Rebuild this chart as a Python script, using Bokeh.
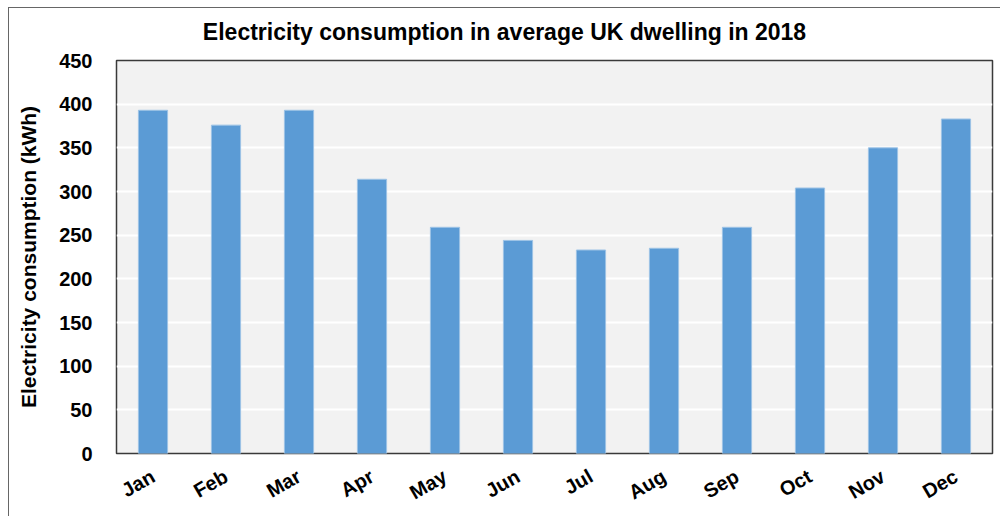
from bokeh.plotting import figure
from bokeh.models import Div, SingleIntervalTicker, FactorRange
from bokeh.layouts import column
from bokeh.embed import file_html
from bokeh.resources import INLINE
import math

# Monthly electricity use of an average UK dwelling, 2018 (kWh)
months = ["Jan", "Feb", "Mar", "Apr", "May", "Jun",
          "Jul", "Aug", "Sep", "Oct", "Nov", "Dec"]
consumption_kwh = [393, 376, 393, 314, 259, 244, 233, 235, 259, 304, 350, 383]

TITLE = "Electricity consumption in average UK dwelling in 2018"
FONT = "Liberation Sans"

title_div = Div(
    text=f'<div style="position: relative; top: 11px;">{TITLE}</div>',
    width=991, height=40, margin=0,
    styles={
        "font-family": f"'{FONT}'", "font-weight": "bold", "font-size": "23px",
        "color": "black", "text-align": "center", "line-height": "27px",
    },
)

p = figure(
    x_range=FactorRange(*months, range_padding=0),
    y_range=(0, 450),
    width=991, height=468, margin=0,
    output_backend="svg", toolbar_location=None,
    min_border_left=107, min_border_right=8,
    min_border_top=12, min_border_bottom=61,
)

p.background_fill_color = "#f2f2f2"
p.border_fill_color = "white"
p.outline_line_color = "#3a3a3a"
p.outline_line_width = 1.5

p.vbar(x=months, top=consumption_kwh, width=0.4,
       fill_color="#5b9bd5", line_color="#9dc3e6", line_width=1)

# gridlines
p.xgrid.grid_line_color = None
p.ygrid.grid_line_color = "white"
p.ygrid.grid_line_width = 2

# y axis
p.yaxis.ticker = SingleIntervalTicker(interval=50)
p.yaxis.axis_label = "Electricity consumption (kWh)"
p.yaxis.axis_label_text_font = FONT
p.yaxis.axis_label_text_font_style = "bold"
p.yaxis.axis_label_text_font_size = "21px"
p.yaxis.axis_label_text_color = "black"
p.yaxis.axis_label_standoff = 16
p.yaxis.major_label_text_font = FONT
p.yaxis.major_label_text_font_style = "bold"
p.yaxis.major_label_text_font_size = "20px"
p.yaxis.major_label_text_color = "black"
p.yaxis.major_label_standoff = 18

# x axis
p.xaxis.major_label_orientation = math.radians(30)
p.xaxis.major_label_text_font = FONT
p.xaxis.major_label_text_font_style = "bold"
p.xaxis.major_label_text_font_size = "20px"
p.xaxis.major_label_text_color = "black"
p.xaxis.major_label_standoff = 15

for ax in (p.xaxis, p.yaxis):
    ax.axis_line_color = None
    ax.major_tick_line_color = None
    ax.minor_tick_line_color = None

page = column(title_div, p, spacing=0)
page.margin = (7, 0, 0, 8)
page.styles = {"border-left": "1px solid #666666", "border-top": "1px solid #666666"}

open("out.html", "w").write(file_html(page, INLINE))
